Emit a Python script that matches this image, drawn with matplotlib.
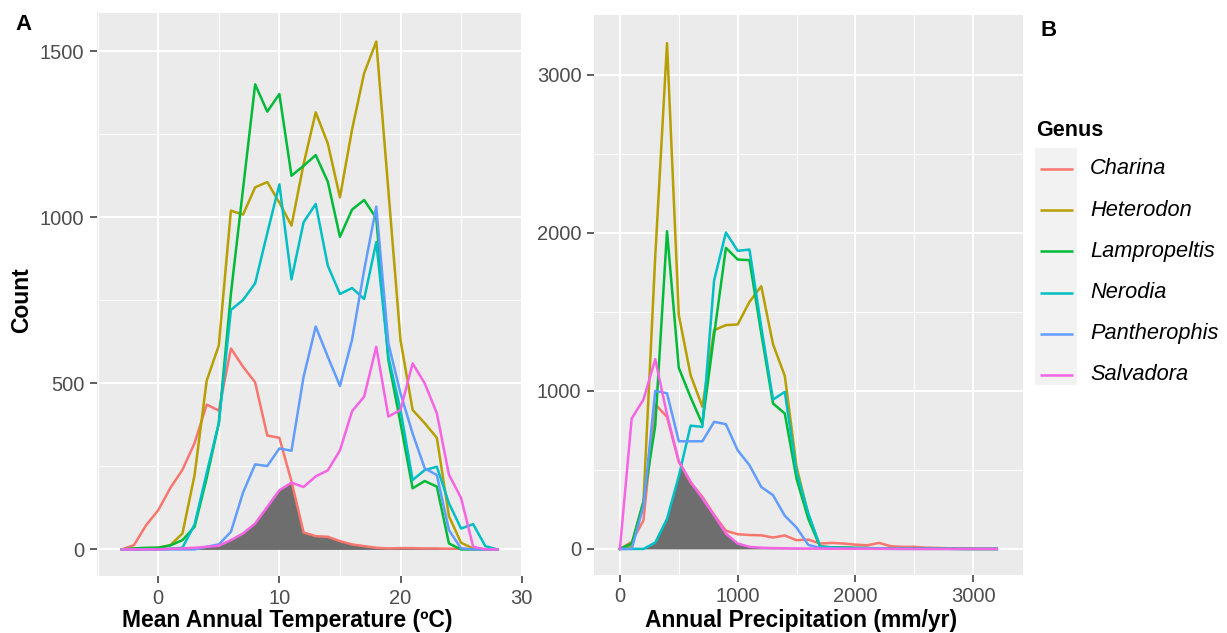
import numpy as np
import matplotlib.pyplot as plt
from matplotlib.patches import Rectangle

plt.rcParams['font.family'] = ['Liberation Sans', 'DejaVu Sans']

genera = ['Charina', 'Heterodon', 'Lampropeltis', 'Nerodia', 'Pantherophis', 'Salvadora']
colors = ['#F8766D', '#B79F00', '#00BA38', '#00BFC4', '#619CFF', '#F564E3']

# Panel A: mean annual temperature bins (-3 .. 28)
temp = np.arange(-3, 29)
charina_t = [0, 13, 73, 118, 185, 240, 320, 436, 418, 605, 550, 503, 343, 336, 205, 51,
             40, 38, 25, 15, 10, 5, 3, 4, 4, 3, 3, 2, 2, 1, 1, 0]
heterodon_t = [0, 2, 3, 5, 13, 48, 224, 508, 614, 1020, 1008, 1090, 1106, 1044, 975, 1160,
               1316, 1222, 1060, 1264, 1434, 1529, 1080, 630, 420, 380, 336, 100, 20, 3, 0, 0]
lampropeltis_t = [0, 3, 5, 5, 12, 28, 68, 215, 380, 770, 1085, 1400, 1318, 1371, 1125, 1155,
                  1187, 1107, 941, 1023, 1052, 997, 570, 380, 184, 206, 189, 18, 0, 0, 0, 0]
nerodia_t = [0, 0, 0, 0, 2, 5, 75, 230, 380, 721, 751, 801, 952, 1099, 813, 985,
             1040, 854, 769, 787, 754, 925, 580, 420, 209, 239, 249, 139, 63, 76, 10, 0]
pantherophis_t = [0, 0, 0, 0, 0, 0, 0, 8, 15, 53, 171, 256, 251, 304, 297, 520,
                  671, 580, 492, 631, 841, 1032, 620, 470, 349, 244, 224, 58, 3, 0, 0, 0]
salvadora_t = [0, 0, 0, 0, 2, 3, 5, 8, 11, 28, 48, 78, 128, 178, 201, 188,
               220, 238, 298, 416, 460, 610, 400, 420, 560, 500, 410, 225, 155, 8, 0, 0]

# Panel B: annual precipitation bins (0 .. 3200)
precip = np.arange(0, 3300, 100)
charina_p = [0, 44, 181, 915, 835, 550, 420, 330, 215, 115, 93, 88, 86, 72, 85, 55, 59,
             34, 38, 34, 27, 23, 38, 17, 13, 13, 8, 6, 4, 3, 2, 1, 0]
heterodon_p = [0, 20, 300, 1850, 3200, 1480, 1100, 900, 1384, 1416, 1420, 1563, 1662, 1295,
               1095, 519, 215, 15, 10, 8, 6, 5, 4, 3, 3, 2, 2, 1, 1, 1, 0, 0, 0]
lampropeltis_p = [0, 34, 300, 780, 2010, 1145, 960, 790, 1355, 1905, 1831, 1827, 1365, 920,
                  857, 443, 190, 13, 10, 8, 6, 5, 4, 3, 3, 2, 2, 1, 1, 0, 0, 0, 0]
nerodia_p = [0, 0, 0, 40, 190, 460, 780, 772, 1700, 2002, 1886, 1894, 1405, 945, 994, 487,
             224, 15, 10, 8, 6, 5, 4, 3, 3, 2, 2, 1, 1, 0, 0, 0, 0]
pantherophis_p = [0, 0, 270, 1000, 985, 681, 681, 681, 804, 789, 624, 530, 392, 340, 210,
                  135, 25, 6, 3, 2, 1, 1, 1, 0, 0, 0, 0, 0, 0, 0, 0, 0, 0]
salvadora_p = [0, 825, 945, 1200, 850, 555, 425, 320, 212, 97, 34, 13, 8, 5, 4, 3, 2,
               2, 1, 1, 1, 1, 1, 1, 0, 0, 0, 0, 0, 0, 0, 0, 0]

series_t = [charina_t, heterodon_t, lampropeltis_t, nerodia_t, pantherophis_t, salvadora_t]
series_p = [charina_p, heterodon_p, lampropeltis_p, nerodia_p, pantherophis_p, salvadora_p]

W, H = 1227, 633
fig = plt.figure(figsize=(W / 100, H / 100), dpi=100)


def px_axes(x0, y0, x1, y1):
    return fig.add_axes([x0 / W, 1 - y1 / H, (x1 - x0) / W, (y1 - y0) / H])


def draw_panel(ax, x, series, xlim, ylim, xmaj, xmin, ymaj, ymin):
    # overlap of all genera, shaded grey
    fine = np.linspace(x[0], x[-1], 4000)
    low = np.min([np.interp(fine, x, s) for s in series], axis=0)
    ax.fill_between(fine, 0, low, color='#6e6e6e', lw=0, zorder=2)
    for s, c in zip(series, colors):
        ax.plot(x, s, color=c, lw=1.8, zorder=3, solid_joinstyle='round')
    ax.set_facecolor('#EBEBEB')
    ax.set_xlim(*xlim)
    ax.set_ylim(*ylim)
    ax.set_xticks(xmaj)
    ax.set_xticks(xmin, minor=True)
    ax.set_yticks(ymaj)
    ax.set_yticks(ymin, minor=True)
    ax.grid(which='major', color='white', lw=1.5, zorder=0)
    ax.grid(which='minor', color='white', lw=0.7, zorder=0)
    ax.set_axisbelow(True)
    for sp in ax.spines.values():
        sp.set_visible(False)
    ax.tick_params(which='major', length=5, width=1.1, color='#333333',
                   labelsize=14.5, labelcolor='#4D4D4D', pad=4)
    ax.tick_params(which='minor', length=0)


axA = px_axes(96.7, 13.3, 522, 576)
draw_panel(axA, temp, series_t, (-5.08, 30.03), (-80, 1614),
           [0, 10, 20, 30], [-5, 5, 15, 25], [0, 500, 1000, 1500], [250, 750, 1250])

axB = px_axes(594, 14.7, 1022.7, 575)
draw_panel(axB, precip, series_p, (-220, 3420), (-165, 3380),
           [0, 1000, 2000, 3000], [500, 1500, 2500], [0, 1000, 2000, 3000], [500, 1500, 2500])

# titles and panel letters
fig.text(287 / W, 1 - 620 / H, 'Mean Annual Temperature (ºC)', ha='center', va='center',
         fontsize=16.5, fontweight='bold')
fig.text(801 / W, 1 - 620 / H, 'Annual Precipitation (mm/yr)', ha='center', va='center',
         fontsize=16.5, fontweight='bold')
fig.text(22 / W, 1 - 300 / H, 'Count', rotation=90, ha='center', va='center',
         fontsize=16.5, fontweight='bold')
fig.text(15 / W, 1 - 25 / H, 'A', ha='left', va='center', fontsize=16, fontweight='bold')
fig.text(1040 / W, 1 - 31 / H, 'B', ha='left', va='center', fontsize=16, fontweight='bold')

# legend drawn in pixel space
leg = fig.add_axes([0, 0, 1, 1], zorder=5)
leg.set_xlim(0, W)
leg.set_ylim(H, 0)
leg.axis('off')
leg.text(1036, 130, 'Genus', ha='left', va='center', fontsize=15.5, fontweight='bold')
leg.add_patch(Rectangle((1035, 148), 42, 237, facecolor='#F2F2F2', edgecolor='none'))
for i, (g, c) in enumerate(zip(genera, colors)):
    yy = 169 + i * 41.2
    leg.plot([1040, 1073], [yy, yy], color=c, lw=1.8, solid_capstyle='butt')
    leg.text(1090, yy, g, ha='left', va='center', fontsize=15.7, style='italic')

fig.savefig('out.png', dpi=100)
